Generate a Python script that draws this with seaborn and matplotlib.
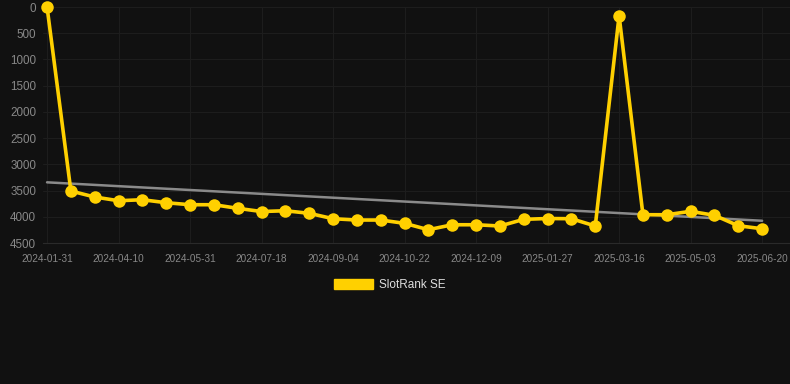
import matplotlib
matplotlib.use("Agg")
import matplotlib.pyplot as plt
import seaborn as sns
import numpy as np
import pandas as pd

# Data (rank values, one point per sample)
rank_values = [0, 3509, 3623, 3694, 3675, 3732, 3770, 3770, 3839, 3900,
               3885, 3934, 4037, 4062, 4062, 4125, 4247, 4152, 4152, 4176,
               4049, 4033, 4037, 4176, 166, 3961, 3961, 3896, 3972, 4171, 4228]
tick_labels = ["2024-01-31", "2024-04-10", "2024-05-31", "2024-07-18", "2024-09-04",
               "2024-10-22", "2024-12-09", "2025-01-27", "2025-03-16", "2025-05-03",
               "2025-06-20"]
series_name = "SlotRank SE"

idx = np.arange(len(rank_values))
df = pd.DataFrame({"idx": idx, "rank": rank_values})
slope, intercept = np.polyfit(idx, rank_values, 1)
trend = pd.DataFrame({"idx": [idx[0], idx[-1]],
                      "rank": [intercept + slope * idx[0], intercept + slope * idx[-1]]})

sns.set_theme(style="dark")
plt.rcParams["font.family"] = ["Liberation Sans", "DejaVu Sans"]

bg = "#111111"
fig = plt.figure(figsize=(7.9, 3.84), dpi=100, facecolor=bg)
ax = fig.add_axes([43 / 790, 1 - 243 / 384, 747 / 790, 236 / 384])
ax.set_facecolor(bg)

yellow = "#FFD000"
sns.lineplot(data=trend, x="idx", y="rank", ax=ax, color="#8a8a8a", linewidth=1.8,
             legend=False, zorder=2)
sns.lineplot(data=df, x="idx", y="rank", ax=ax, color=yellow, linewidth=2.6,
             marker="o", markersize=9, markeredgewidth=0, clip_on=False,
             legend=False, zorder=3)

ax.set_ylim(4500, 0)
ax.set_xlim(-0.17, 31.17)
ax.set_yticks(np.arange(0, 4501, 500))
ax.set_xticks(idx[::3])
ax.set_xticklabels(tick_labels)
ax.set_xlabel("")
ax.set_ylabel("")

for s in ax.spines.values():
    s.set_visible(False)
ax.spines["bottom"].set_visible(True)
ax.spines["bottom"].set_color("#2a2a2a")
ax.spines["bottom"].set_linewidth(0.8)
ax.grid(True, color="#1d1d1d", linewidth=0.8)
ax.tick_params(axis="y", colors="#888888", labelsize=8.4, length=0, pad=5)
ax.tick_params(axis="x", colors="#888888", labelsize=7.2, length=5, width=0.8,
               pad=3)
for t in ax.get_xticklines():
    t.set_color("#2a2a2a")
for lbl in ax.get_xticklabels() + ax.get_yticklabels():
    lbl.set_color("#888888")

from matplotlib.patches import Patch
handle = Patch(facecolor=yellow, edgecolor=yellow)
leg = fig.legend([handle], [series_name], loc="center", bbox_to_anchor=(390 / 790, 1 - 285 / 384),
                 frameon=False, handlelength=3.3, handleheight=0.9, handletextpad=0.5,
                 fontsize=8.5)
for t in leg.get_texts():
    t.set_color("#dddddd")

fig.savefig("out.png", dpi=100, facecolor=bg)
